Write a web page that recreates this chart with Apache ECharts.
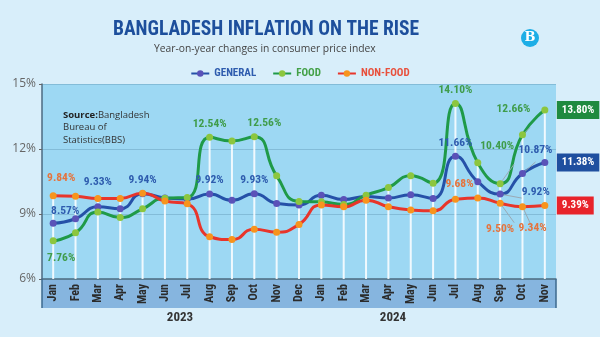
<!DOCTYPE html>
<html><head><meta charset="utf-8">
<script src="https://cdn.jsdelivr.net/npm/echarts@6/dist/echarts.min.js"></script>
<style>html,body{margin:0;padding:0;background:#d8eefa;}#c{width:600px;height:337px;}</style>
</head><body><div id="c"></div>
<script>
const categories = ['Jan','Feb','Mar','Apr','May','Jun','Jul','Aug','Sep','Oct','Nov','Dec',
                    'Jan','Feb','Mar','Apr','May','Jun','Jul','Aug','Sep','Oct','Nov'];
const years = ['2023','2024'];
const general = [8.57,8.78,9.33,9.24,9.94,9.74,9.69,9.92,9.63,9.93,9.49,9.41,
                 9.86,9.67,9.81,9.74,9.89,9.72,11.66,10.49,9.92,10.87,11.38];
const food = [7.76,8.13,9.09,8.84,9.24,9.73,9.76,12.54,12.37,12.56,10.76,9.58,
              9.56,9.44,9.87,10.22,10.76,10.42,14.10,11.36,10.40,12.66,13.80];
const nonFood = [9.84,9.82,9.72,9.72,9.96,9.60,9.47,7.95,7.82,8.30,8.16,8.52,
                 9.42,9.33,9.64,9.34,9.19,9.15,9.68,9.74,9.50,9.34,9.39];
const yTicks = [6,9,12,15];

const FONT = '"Liberation Sans Narrow","Roboto Condensed","Roboto",sans-serif';

// label placements (index -> label options)
const genLabels = {
  0:{position:'top',distance:3,offset:[12,0]},
  2:{position:'top',distance:15},
  4:{position:'top',distance:4},
  7:{position:'top',distance:4},
  9:{position:'top',distance:4},
  18:{position:'top',distance:4},
  20:{position:'right',distance:18,offset:[0,-2],line:true},
  21:{position:'top',distance:14,offset:[13,0],line:true}
};
const foodLabels = {
  0:{position:'bottom',distance:8,offset:[8,0]},
  7:{position:'top',distance:4},
  9:{position:'top',distance:4,offset:[10,0]},
  18:{position:'top',distance:4},
  20:{position:'top',distance:28,offset:[-3,0],line:true},
  21:{position:'top',distance:16,offset:[-9,0],line:true}
};
const nfLabels = {
  0:{position:'top',distance:8,offset:[8,0]},
  18:{position:'top',distance:6,offset:[4,0]},
  20:{position:'bottom',distance:16,line:true},
  21:{position:'bottom',distance:12,offset:[10,0],line:true}
};

function build(values, labels, color){
  return values.map((v,i)=>{
    const l = labels[i];
    if(!l) return v;
    const item = {value:v, label:{show:true, position:l.position, distance:l.distance,
      offset:l.offset||[0,0], color:color, fontFamily:FONT, fontWeight:'bold', fontSize:11.5,
      formatter:p=>p.value.toFixed(2)+'%'}};
    if(l.line){ item.labelLine={show:true,lineStyle:{color:'#9aa9b4',width:1}}; }
    return item;
  });
}
const maxVals = categories.map((c,i)=>Math.max(general[i],food[i],nonFood[i]));

function lineSeries(name, values, labels, lineColor, dotColor, labelColor, badgeColor){
  return {
    name:name, type:'line', smooth:0.55, z:3,
    data: build(values, labels, labelColor),
    symbol:'circle', symbolSize:7,
    lineStyle:{color:lineColor,width:3},
    itemStyle:{color:dotColor,borderWidth:0},
    label:{show:false},
    endLabel:{show:true, formatter:p=>p.value.toFixed(2)+'%', color:'#fff', backgroundColor:badgeColor,
      padding:[4,5,3,5], distance:12, fontFamily:FONT, fontWeight:'bold', fontSize:11},
    emphasis:{disabled:true}
  };
}

const chart = echarts.init(document.getElementById('c'), null, {renderer:'canvas'});
chart.setOption({
  backgroundColor:'#d8eefa',
  animation:false,
  title:[
    {text:'BANGLADESH INFLATION ON THE RISE', left:108, top:15,
      textStyle:{fontFamily:FONT, fontWeight:'bold', fontSize:19.5, color:'#1d4f9c'}},
    {text:'Year-on-year changes in consumer price index', left:149, top:39,
      textStyle:{fontFamily:'"Open Sans",sans-serif', fontWeight:'normal', fontSize:10.3, color:'#444'}}
  ],
  legend:{top:63, left:'center', itemWidth:18, itemHeight:8, itemGap:16,
    data:[
      {name:'GENERAL', textStyle:{color:'#2e5cae'}},
      {name:'FOOD', textStyle:{color:'#43a047'}},
      {name:'NON-FOOD', textStyle:{color:'#e8503c'}}
    ],
    textStyle:{fontFamily:FONT, fontWeight:'bold', fontSize:11}},
  grid:{left:42, right:44, top:84, bottom:58, show:true, backgroundColor:'#9dd8f3', borderWidth:0},
  xAxis:{type:'category', data:categories, boundaryGap:true,
    axisLine:{show:true, lineStyle:{color:'#4c6a80', width:1.5}},
    axisTick:{show:true, length:29, interval:(i)=>i===12, lineStyle:{color:'#3d6a8e', width:1.5}},
    axisLabel:{rotate:90, margin:5, color:'#2b2b2b', fontFamily:FONT, fontWeight:'bold', fontSize:12, interval:0}},
  yAxis:{type:'value', min:yTicks[0], max:yTicks[yTicks.length-1], interval:3,
    axisLine:{show:true, lineStyle:{color:'#4c6a80', width:1.5}},
    axisTick:{show:true, length:3, lineStyle:{color:'#666'}},
    axisLabel:{formatter:'{value}%', color:'#666', fontFamily:'"Open Sans",sans-serif', fontSize:12, margin:6},
    splitLine:{show:true, lineStyle:{color:'#83bcd8', width:1}}},
  graphic:[
    {type:'rect', shape:{x:42, y:280, width:514, height:28}, style:{fill:'#86b5df'}, z:-1, silent:true},
    {type:'circle', shape:{cx:530, cy:38, r:9}, style:{fill:'#1daee6'}},
    {type:'text', x:530, y:38, style:{text:'B', fill:'#fff', font:'bold 13px "DejaVu Serif",serif', align:'center', verticalAlign:'middle'}},
    {type:'text', x:63, y:109, style:{
      text:'{b|Source:}{n|Bangladesh}\n{n|Bureau of}\n{n|Statistics(BBS)}',
      rich:{b:{fontFamily:'"Open Sans",sans-serif',fontWeight:'bold',fontSize:9.5,fill:'#222',lineHeight:12.5},
            n:{fontFamily:'"Open Sans",sans-serif',fontSize:9.5,fill:'#333',lineHeight:12.5}}}},
    {type:'text', x:180, y:318, style:{text:years[0], fill:'#333', font:'bold 13px '+FONT, align:'center', verticalAlign:'middle'}},
    {type:'text', x:393, y:318, style:{text:years[1], fill:'#333', font:'bold 13px '+FONT, align:'center', verticalAlign:'middle'}}
  ],
  series:[
    {name:'drop', type:'bar', data:maxVals, barWidth:2, z:1, silent:true,
      itemStyle:{color:'rgba(255,255,255,0.85)'}, label:{show:false}, legendHoverLink:false},
    lineSeries('GENERAL', general, genLabels, '#2551a8', '#5a52b8', '#2e5cae', '#1f4f9f'),
    lineSeries('FOOD', food, foodLabels, '#1f9a48', '#8cc63f', '#3f9c4a', '#1f8a3f'),
    lineSeries('NON-FOOD', nonFood, nfLabels, '#e8352b', '#f7941d', '#e5733c', '#e8232a')
  ]
});
</script></body></html>
